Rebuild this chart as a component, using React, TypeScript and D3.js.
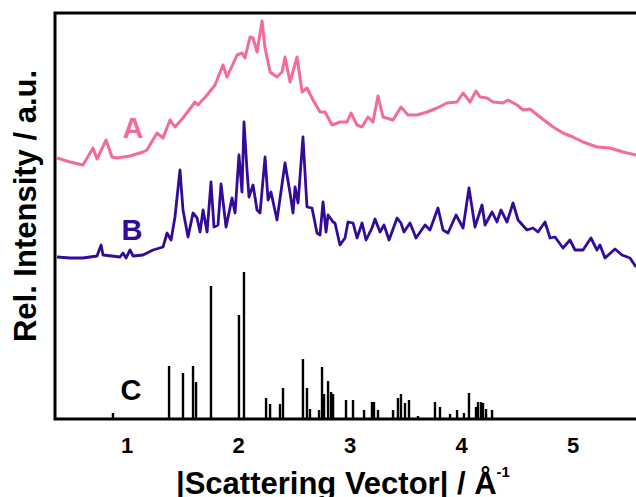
import React from "react";
import * as d3 from "d3";

// curve A (pink): [scattering vector, rel. intensity]
const curveA = [
  [0.372, 261], [0.489, 257], [0.605, 254], [0.695, 271], [0.731, 260], [0.812, 279],
  [0.865, 262], [0.91, 261], [1.027, 263], [1.143, 267], [1.179, 269], [1.269, 286],
  [1.323, 281], [1.386, 299], [1.43, 292], [1.502, 301], [1.61, 317], [1.637, 314],
  [1.718, 324], [1.789, 334], [1.861, 354], [1.897, 342], [1.987, 364], [2.031, 366],
  [2.058, 361], [2.103, 382], [2.13, 381], [2.166, 367], [2.211, 398], [2.238, 371],
  [2.283, 347], [2.345, 342], [2.39, 347], [2.417, 362], [2.462, 337], [2.525, 362],
  [2.57, 327], [2.614, 331], [2.668, 319], [2.731, 307], [2.776, 307], [2.839, 294],
  [2.91, 297], [2.973, 297], [3.009, 306], [3.063, 294], [3.108, 292], [3.161, 302],
  [3.206, 297], [3.251, 323], [3.296, 302], [3.386, 299], [3.457, 312], [3.52, 304],
  [3.601, 304], [3.691, 307], [3.78, 311], [3.87, 316], [3.96, 317], [4.014, 326],
  [4.076, 317], [4.13, 328], [4.166, 322], [4.229, 321], [4.283, 317], [4.372, 316],
  [4.417, 319], [4.498, 314], [4.552, 309], [4.614, 310], [4.704, 302], [4.821, 292],
  [4.91, 286], [5.0, 282], [5.09, 277], [5.215, 272], [5.332, 271], [5.448, 267],
  [5.565, 264],
];

// curve B (purple)
const curveB = [
  [0.372, 162], [0.489, 161], [0.605, 161], [0.731, 163], [0.767, 174], [0.785, 164],
  [0.937, 162], [0.964, 166], [0.991, 161], [1.027, 169], [1.054, 163], [1.143, 164],
  [1.233, 169], [1.323, 172], [1.359, 186], [1.395, 179], [1.43, 202], [1.475, 249],
  [1.502, 209], [1.547, 182], [1.592, 206], [1.628, 201], [1.655, 187], [1.682, 209],
  [1.718, 187], [1.753, 237], [1.78, 192], [1.816, 194], [1.843, 235], [1.888, 192],
  [1.942, 221], [1.969, 206], [2.004, 264], [2.031, 227], [2.049, 297], [2.076, 249],
  [2.094, 222], [2.13, 234], [2.166, 209], [2.193, 206], [2.238, 262], [2.265, 219],
  [2.291, 227], [2.345, 199], [2.417, 256], [2.462, 226], [2.489, 206], [2.507, 232],
  [2.534, 216], [2.578, 282], [2.614, 212], [2.659, 211], [2.704, 186], [2.731, 184],
  [2.758, 217], [2.785, 187], [2.803, 204], [2.848, 197], [2.865, 196], [2.91, 174],
  [2.955, 181], [2.982, 197], [3.027, 196], [3.063, 181], [3.108, 196], [3.144, 179],
  [3.197, 191], [3.224, 200], [3.269, 187], [3.305, 194], [3.35, 179], [3.422, 201],
  [3.457, 196], [3.484, 187], [3.538, 196], [3.592, 181], [3.673, 194], [3.717, 189],
  [3.789, 211], [3.834, 189], [3.879, 186], [3.951, 204], [4.014, 191], [4.067, 231],
  [4.121, 192], [4.184, 214], [4.211, 194], [4.274, 207], [4.318, 197], [4.354, 209],
  [4.408, 197], [4.462, 216], [4.507, 199], [4.587, 189], [4.641, 191], [4.686, 187],
  [4.749, 197], [4.794, 181], [4.839, 182], [4.91, 171], [4.973, 179], [5.018, 169],
  [5.09, 169], [5.161, 181], [5.215, 169], [5.242, 174], [5.287, 161], [5.377, 170],
  [5.439, 164], [5.511, 161], [5.565, 152],
];

// stick pattern C
const sticksC = [
  [0.874, 6], [1.377, 53], [1.502, 46], [1.592, 53], [1.619, 37], [1.753, 133],
  [2.004, 104], [2.049, 147], [2.247, 21], [2.283, 15], [2.372, 15], [2.399, 31],
  [2.578, 60], [2.614, 31], [2.641, 10], [2.722, 9], [2.749, 52], [2.767, 25],
  [2.803, 38], [2.83, 27], [2.848, 25], [2.964, 19], [3.027, 19], [3.126, 9],
  [3.197, 17], [3.215, 17], [3.251, 9], [3.386, 9], [3.43, 21], [3.457, 25],
  [3.493, 16], [3.529, 19], [3.61, 3], [3.762, 17], [3.807, 12], [3.897, 5],
  [3.96, 9], [4.022, 6], [4.067, 26], [4.13, 12], [4.148, 17], [4.175, 17],
  [4.193, 16], [4.22, 10], [4.274, 9],
];

const xTicks = [1, 2, 3, 4, 5];

const W = 636;
const H = 497;
const left = 55;
const top = 13;
const bottom = 419;
const font = "'Liberation Sans', Arial, sans-serif";

export default function App() {
  const x = d3.scaleLinear().domain([0.354, 5.565]).range([left, W]);
  const y = d3.scaleLinear().domain([0, 406]).range([bottom, top]);
  const line = d3
    .line()
    .x((d) => x(d[0]))
    .y((d) => y(d[1]));

  return (
    <svg
      width={W}
      height={H}
      style={{ position: "absolute", left: 0, top: 0, background: "#fff" }}
      fontFamily={font}
      fontWeight="bold"
    >
      <rect width={W} height={H} fill="#fff" />
      <path d={line(curveA)} fill="none" stroke="#f26b9b" strokeWidth={3} strokeLinejoin="round" />
      <path d={line(curveB)} fill="none" stroke="#330a9a" strokeWidth={2.8} strokeLinejoin="round" />
      {sticksC.map((d, i) => (
        <line key={i} x1={x(d[0])} x2={x(d[0])} y1={y(0)} y2={y(d[1])} stroke="#000" strokeWidth={2.4} />
      ))}

      {/* frame */}
      <path d={`M${W},${top}H${left}V${bottom}H${W}`} fill="none" stroke="#000" strokeWidth={3} />

      {/* series labels */}
      <text x={133} y={138} fontSize={29} fill="#f26b9b" textAnchor="middle">A</text>
      <text x={132} y={240} fontSize={29} fill="#330a9a" textAnchor="middle">B</text>
      <text x={131} y={400} fontSize={29} fill="#000" textAnchor="middle">C</text>

      {/* x tick labels */}
      {xTicks.map((t) => (
        <text key={t} x={x(t)} y={453} fontSize={22} textAnchor="middle" fill="#000">
          {t}
        </text>
      ))}

      <text x={176} y={494} fontSize={31} fill="#000">
        |Scattering Vector| / Å
        <tspan fontSize={15} dy={-17}>-1</tspan>
      </text>

      <text
        transform={`translate(36,206) rotate(-90)`}
        fontSize={31}
        textAnchor="middle"
        fill="#000"
      >
        Rel. Intensity / a.u.
      </text>
    </svg>
  );
}
